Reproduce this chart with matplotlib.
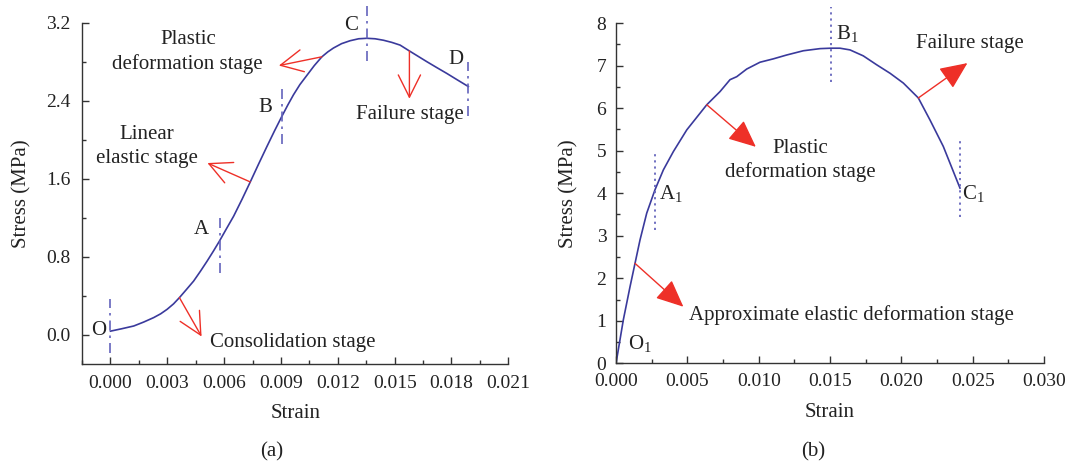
import numpy as np
import matplotlib
matplotlib.use("Agg")
import matplotlib.pyplot as plt

plt.rcParams['font.family'] = ['Liberation Serif', 'DejaVu Serif']
plt.rcParams['mathtext.fontset'] = 'custom'
plt.rcParams['mathtext.rm'] = 'Liberation Serif'
plt.rcParams['mathtext.it'] = 'Liberation Serif:italic'
plt.rcParams['mathtext.default'] = 'rm'

CURVE = '#3a3a9c'
MARK = '#6464bc'
RED = '#ee3028'
TXT = '#222222'

# (a) stress-strain curve
strain_a = [0.0000, 0.00060, 0.00123, 0.00175, 0.00228, 0.00265, 0.00299, 0.00333, 0.00364,
            0.00400, 0.00439, 0.00475, 0.00510, 0.00543, 0.00575, 0.00612, 0.00650,
            0.00695, 0.00738, 0.00782, 0.00826, 0.00866, 0.00905, 0.00936, 0.00966,
            0.01000, 0.01037, 0.01076, 0.01116, 0.01147, 0.01177, 0.01220, 0.01265,
            0.01310, 0.01353, 0.01397, 0.01441, 0.01485, 0.01529, 0.01578, 0.01624,
            0.01670, 0.01722, 0.01775, 0.01832, 0.01889]
stress_a = [0.035, 0.060, 0.088, 0.128, 0.174, 0.213, 0.259, 0.315, 0.379,
            0.460, 0.549, 0.650, 0.753, 0.855, 0.958, 1.085, 1.214,
            1.390, 1.566, 1.750, 1.930, 2.090, 2.240, 2.355, 2.460,
            2.565, 2.660, 2.760, 2.850, 2.900, 2.940, 2.985, 3.015,
            3.035, 3.040, 3.035, 3.020, 2.998, 2.970, 2.910, 2.855,
            2.800, 2.740, 2.680, 2.612, 2.545]

# stage boundaries O, A, B, C, D
bound_a_x = [0.0, 0.00577, 0.00907, 0.01352, 0.01888]
bound_a_lo = [-0.19, 0.63, 1.96, 2.81, 2.24]
bound_a_hi = [0.36, 1.21, 2.52, 3.37, 2.80]
bound_a_names = ['O', 'A', 'B', 'C', 'D']
bound_a_lx = [-0.0006, 0.00481, 0.0082, 0.0127, 0.01824]
bound_a_ly = [0.04, 1.08, 2.33, 3.17, 2.82]

# stage notes: text, text position, arrow start, arrow end
notes_a = [
    ('Consolidation stage', (0.00962, -0.08), (0.00364, 0.379), (0.00481, -0.02)),
    ('Linear\nelastic stage', (0.00194, 1.93), (0.00738, 1.566), (0.00512, 1.76)),
    ('Plastic\ndeformation stage', (0.00408, 2.90), (0.01116, 2.85), (0.00889, 2.76)),
    ('Failure stage', (0.0158, 2.26), (0.01578, 2.91), (0.01578, 2.42)),
]

# (b) stress-strain curve
strain_b = [0.0, 0.00051, 0.00098, 0.00133, 0.00168, 0.00215, 0.00273, 0.00332, 0.00402,
            0.00496, 0.00636, 0.00729, 0.00799, 0.00846, 0.00916, 0.01009, 0.01103,
            0.01196, 0.01313, 0.01430, 0.01505, 0.01570, 0.01640, 0.01733, 0.01827,
            0.01921, 0.02014, 0.02119, 0.02201, 0.02294, 0.02411]
stress_b = [0.0, 1.02, 1.80, 2.35, 2.90, 3.53, 4.08, 4.55, 4.98,
            5.49, 6.08, 6.39, 6.67, 6.74, 6.92, 7.08, 7.16,
            7.25, 7.35, 7.40, 7.41, 7.41, 7.37, 7.23, 7.02,
            6.82, 6.59, 6.24, 5.72, 5.10, 4.12]

bound_b_x = [0.00271, 0.01505, 0.02411]
bound_b_lo = [3.13, 6.61, 3.44]
bound_b_hi = [4.92, 8.39, 5.23]
bound_b_names = ['O$_1$', 'A$_1$', 'B$_1$', 'C$_1$']
bound_b_lx = [0.00165, 0.00387, 0.0162, 0.02504]
bound_b_ly = [0.47, 3.99, 7.75, 3.99]

notes_b = [
    ('Approximate elastic deformation stage', (0.01652, 1.14), (0.00133, 2.35), (0.00472, 1.33)),
    ('Plastic\ndeformation stage', (0.01294, 4.77), (0.00636, 6.08), (0.0098, 5.09)),
    ('Failure stage', (0.0248, 7.52), (0.02119, 6.24), (0.02463, 7.06)),
]

FS = 14
FT = 15

fig = plt.figure(figsize=(10.71, 4.66), dpi=100)
ax1 = fig.add_axes([0.0766, 0.2193, 0.398, 0.732])
ax2 = fig.add_axes([0.5752, 0.2204, 0.3996, 0.730])


def style_axes(ax):
    for s in ['top', 'right']:
        ax.spines[s].set_visible(False)
    for s in ['left', 'bottom']:
        ax.spines[s].set_color('#333333')
        ax.spines[s].set_linewidth(1.0)
    ax.tick_params(which='both', direction='in', colors='#333333', labelcolor=TXT,
                   labelsize=FS)
    ax.tick_params(which='major', length=5, width=1)
    ax.tick_params(which='minor', length=3, width=1)
    ax.set_xlabel('Strain', fontsize=FT, color=TXT)
    ax.set_ylabel('Stress (MPa)', fontsize=FT, color=TXT)


# ---- (a)
ax1.plot(strain_a, stress_a, color=CURVE, lw=1.2)
ax1.vlines(bound_a_x, bound_a_lo, bound_a_hi, colors=MARK, lw=1.2,
           linestyles=(0, (6, 3, 1.5, 3)), clip_on=False)
for name, lx, ly in zip(bound_a_names, bound_a_lx, bound_a_ly):
    ax1.text(lx, ly, name, fontsize=FT, color=TXT, ha='center', va='center')
for txt, tpos, start, end in notes_a:
    ax1.text(*tpos, txt, fontsize=FT, color=TXT, ha='center', va='center',
             linespacing=1.3)
    ax1.annotate('', xy=end, xytext=start,
                 arrowprops=dict(arrowstyle='->,head_length=0.8,head_width=0.4',
                                 color=RED, lw=1.0, mutation_scale=20,
                                 shrinkA=0, shrinkB=0))
ax1.set_xlim(-0.0015, 0.021)
ax1.set_ylim(-0.3, 3.2)
ax1.set_xticks(np.arange(0, 0.0211, 0.003))
ax1.set_xticks(np.arange(-0.0015, 0.0211, 0.0015), minor=True)
ax1.set_yticks(np.arange(0, 3.21, 0.8))
ax1.set_yticks(np.arange(0, 3.21, 0.4), minor=True)
ax1.set_xticklabels([f'{v:.3f}' for v in np.arange(0, 0.0211, 0.003)])
ax1.set_yticklabels([f'{v:.1f}' for v in np.arange(0, 3.21, 0.8)])
style_axes(ax1)
ax1.tick_params(axis='x', pad=8)
ax1.tick_params(axis='y', pad=8)
ax1.xaxis.labelpad = 9
ax1.yaxis.labelpad = 11

# ---- (b)
ax2.plot(strain_b, stress_b, color=CURVE, lw=1.2)
ax2.vlines(bound_b_x, bound_b_lo, bound_b_hi, colors=MARK, lw=1.3,
           linestyles=(0, (1.2, 2.2)), clip_on=False)
for name, lx, ly in zip(bound_b_names, bound_b_lx, bound_b_ly):
    ax2.text(lx, ly, name, fontsize=FT, color=TXT, ha='center', va='center')
for txt, tpos, start, end in notes_b:
    ax2.text(*tpos, txt, fontsize=FT, color=TXT, ha='center', va='center',
             linespacing=1.3)
    ax2.annotate('', xy=end, xytext=start,
                 arrowprops=dict(arrowstyle='-|>,head_length=0.85,head_width=0.38',
                                 color=RED, lw=1.0, mutation_scale=20,
                                 shrinkA=0, shrinkB=0))
ax2.set_xlim(0, 0.030)
ax2.set_ylim(0, 8)
ax2.set_xticks(np.arange(0, 0.0301, 0.005))
ax2.set_xticks(np.arange(0, 0.0301, 0.0025), minor=True)
ax2.set_yticks(np.arange(0, 8.1, 1))
ax2.set_yticks(np.arange(0, 8.1, 0.5), minor=True)
ax2.set_xticklabels([f'{v:.3f}' for v in np.arange(0, 0.0301, 0.005)])
ax2.set_yticklabels([f'{v:.0f}' for v in np.arange(0, 8.1, 1)])
style_axes(ax2)
ax2.tick_params(axis='x', pad=7)
ax2.tick_params(axis='y', pad=7)
ax2.xaxis.labelpad = 9
ax2.yaxis.labelpad = 13

fig.text(271.6 / 1071, 1 - 452 / 466, '(a)', fontsize=FT, color=TXT, ha='center', va='center')
fig.text(813 / 1071, 1 - 452 / 466, '(b)', fontsize=FT, color=TXT, ha='center', va='center')

fig.savefig('out.png', dpi=100)
